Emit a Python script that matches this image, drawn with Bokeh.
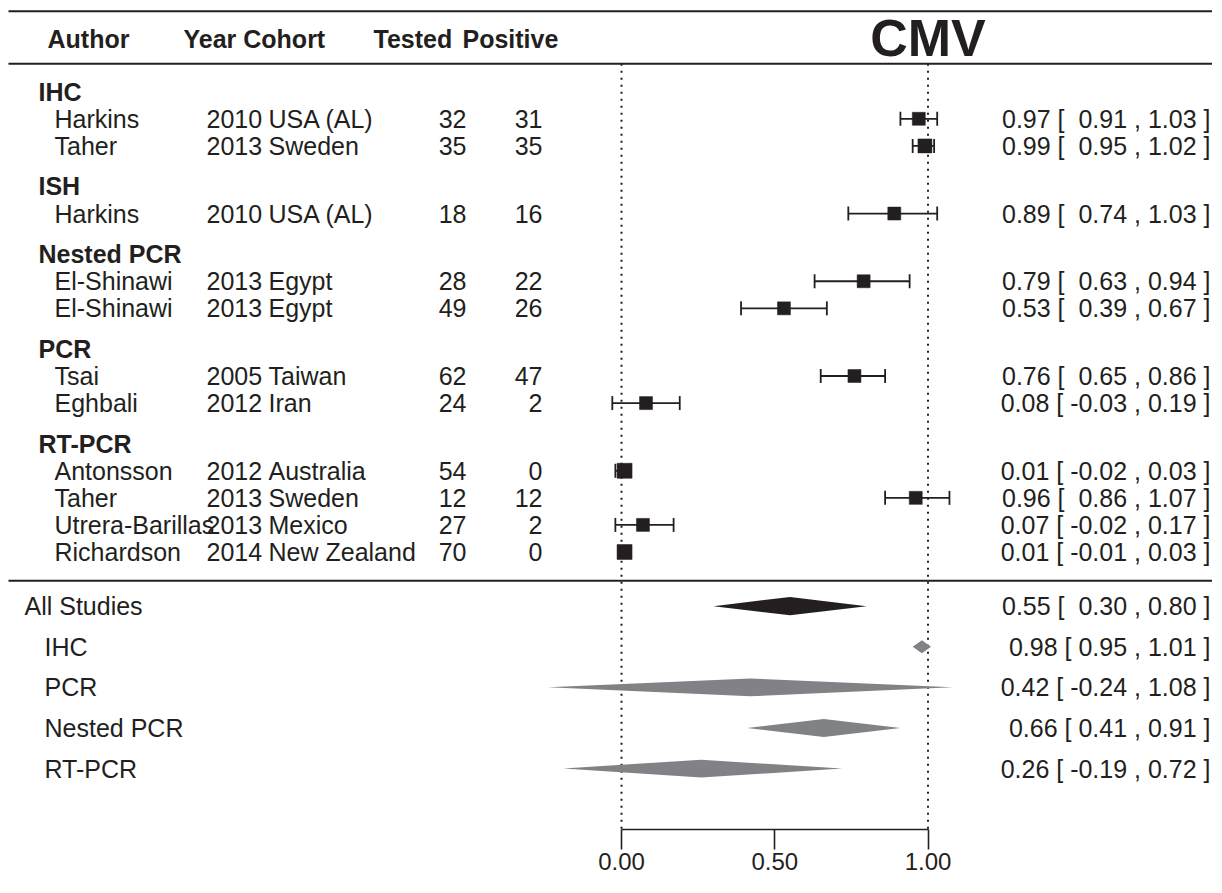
from bokeh.plotting import figure
from bokeh.models import (ColumnDataSource, Range1d, LinearAxis, FixedTicker,
                          NumeralTickFormatter, Whisker, TeeHead)
from bokeh.core.properties import value
from bokeh.embed import file_html
from bokeh.resources import INLINE

# ---------------- data ----------------
title = "CMV"
header_author = "Author"
header_year_cohort = "Year Cohort"
header_tested = "Tested"
header_positive = "Positive"

groups = ["IHC", "ISH", "Nested PCR", "PCR", "RT-PCR"]
study_group = ["IHC", "IHC", "ISH", "Nested PCR", "Nested PCR", "PCR", "PCR",
               "RT-PCR", "RT-PCR", "RT-PCR", "RT-PCR"]
authors = ["Harkins", "Taher", "Harkins", "El-Shinawi", "El-Shinawi", "Tsai",
           "Eghbali", "Antonsson", "Taher", "Utrera-Barillas", "Richardson"]
years = ["2010", "2013", "2010", "2013", "2013", "2005", "2012", "2012",
         "2013", "2013", "2014"]
cohorts = ["USA (AL)", "Sweden", "USA (AL)", "Egypt", "Egypt", "Taiwan", "Iran",
           "Australia", "Sweden", "Mexico", "New Zealand"]
tested = [32, 35, 18, 28, 49, 62, 24, 54, 12, 27, 70]
positive = [31, 35, 16, 22, 26, 47, 2, 0, 12, 2, 0]
est = [0.97, 0.99, 0.89, 0.79, 0.53, 0.76, 0.08, 0.01, 0.96, 0.07, 0.01]
ci_lo = [0.91, 0.95, 0.74, 0.63, 0.39, 0.65, -0.03, -0.02, 0.86, -0.02, -0.01]
ci_hi = [1.03, 1.02, 1.03, 0.94, 0.67, 0.86, 0.19, 0.03, 1.07, 0.17, 0.03]

summary_labels = ["All Studies", "IHC", "PCR", "Nested PCR", "RT-PCR"]
summary_est = [0.55, 0.98, 0.42, 0.66, 0.26]
summary_lo = [0.30, 0.95, -0.24, 0.41, -0.19]
summary_hi = [0.80, 1.01, 1.08, 0.91, 0.72]

x_ticks = [0.0, 0.5, 1.0]

# ---------------- style / layout ----------------
INK = "#231f20"
GREY = "#808285"
FONT = value("Liberation Sans")
FS = "25px"
NB = "\u00a0"
W, H = 1212, 877
ZERO_PX = 621.0          # pixel of x = 0
PX_PER_UNIT = 306.5      # pixels per unit of proportion
ROW_PX = 27.3            # reference pixels per row
AXIS_PX = 829            # frame bottom (axis line)


def xcol(px):
    """pixel column -> data x"""
    return (px - ZERO_PX) / PX_PER_UNIT


# row layout (rows grow downward)
header_rows, study_rows = [], []
r = 0.0
for g in groups:
    header_rows.append(r)
    for sg in study_group:
        if sg == g:
            r += 1
            study_rows.append(r)
    r += 1.5
last = study_rows[-1]
sep_row = last + 1.06
summary_rows = [last + 2 + 1.5 * i for i in range(len(summary_labels))]
axis_row = summary_rows[-1] + 2.25
top_row = -92 / ROW_PX
col_header_row = -1.95
line1_row = -2.97
line2_row = -1.03

x_end = (W - ZERO_PX) / PX_PER_UNIT
p = figure(width=W, height=H, output_backend="svg", toolbar_location=None,
           x_axis_type=None, y_axis_type=None,
           x_range=Range1d(-ZERO_PX / PX_PER_UNIT, x_end),
           y_range=Range1d(axis_row, top_row),
           min_border=0, min_border_left=0, min_border_right=0,
           min_border_top=0, min_border_bottom=H - AXIS_PX)
p.outline_line_color = None
p.background_fill_color = "white"
p.border_fill_color = "white"

# horizontal rules
rules = [line1_row, line2_row, sep_row]
p.segment(x0=[xcol(8)] * 3, x1=[x_end] * 3, y0=rules, y1=rules,
          line_color=INK, line_width=2)

# dotted reference lines at 0 and 1
p.segment(x0=[0, 1], x1=[0, 1], y0=[line2_row, line2_row],
          y1=[axis_row, axis_row], line_color=INK, line_width=2,
          line_dash="2 5")


def txt(x, y, t, align="left", bold=False, size=FS, color=INK):
    p.text(x=x, y=y, text=t, text_font=FONT, text_font_size=size,
           text_color=color, text_align=align, text_baseline="middle",
           text_font_style="bold" if bold else "normal")


# ---- header texts ----
txt([xcol(47)], [col_header_row], [header_author], bold=True)
txt([xcol(183)], [col_header_row], [header_year_cohort], bold=True)
txt([xcol(373)], [col_header_row], [header_tested], bold=True)
txt([xcol(462)], [col_header_row], [header_positive], bold=True)
txt([1.0], [col_header_row - 0.05], [title], align="center", bold=True,
    size="52px")

# group labels
txt([xcol(38)] * len(groups), header_rows, groups, bold=True)

# study columns
n = len(authors)
txt([xcol(54)] * n, study_rows, authors)
txt([xcol(206)] * n, study_rows, years)
txt([xcol(268)] * n, study_rows, cohorts)
txt([xcol(466)] * n, study_rows, [str(v) for v in tested], align="right")
txt([xcol(542)] * n, study_rows, [str(v) for v in positive], align="right")


def fmt_pad(v):
    s = f"{v:.2f}"
    return s if v < 0 else NB + s


study_txt = [f"{e:.2f} [ {fmt_pad(lo)} , {hi:.2f} ]"
             for e, lo, hi in zip(est, ci_lo, ci_hi)]
txt([xcol(1210)] * n, study_rows, study_txt, align="right")

# summary labels
txt([xcol(24)] + [xcol(44)] * (len(summary_labels) - 1), summary_rows,
    summary_labels)
sum_txt = []
for i, (e, lo, hi) in enumerate(zip(summary_est, summary_lo, summary_hi)):
    if i == 0:
        sum_txt.append(f"{e:.2f} [ {fmt_pad(lo)} , {hi:.2f} ]")
    else:
        sum_txt.append(f"{e:.2f} [ {lo:.2f} , {hi:.2f} ]")
txt([xcol(1210)] * len(sum_txt), summary_rows, sum_txt, align="right")

# ---- study CIs and points ----
src = ColumnDataSource(dict(row=study_rows, est=est, lo=ci_lo, hi=ci_hi,
                            size=[13, 14, 13, 13, 13, 13, 13, 15, 13, 13, 15]))
p.add_layout(Whisker(source=src, base="row", lower="lo", upper="hi",
                     dimension="width", line_color=INK, line_width=1.8,
                     lower_head=TeeHead(size=14, line_color=INK, line_width=1.8),
                     upper_head=TeeHead(size=14, line_color=INK, line_width=1.8)))
p.scatter(x="est", y="row", size="size", marker="square", source=src,
          fill_color=INK, line_color=INK, line_width=0.5)

# ---- summary diamonds ----
half_h = [0.34, 0.24, 0.33, 0.33, 0.33]
xs = [[lo, e, hi, e] for e, lo, hi in zip(summary_est, summary_lo, summary_hi)]
ys = [[rr, rr - h, rr, rr + h] for rr, h in zip(summary_rows, half_h)]
p.patches(xs=xs, ys=ys, fill_color=[INK] + [GREY] * (len(xs) - 1),
          line_color=None)

# ---- x axis ----
ax = LinearAxis(ticker=FixedTicker(ticks=x_ticks),
                formatter=NumeralTickFormatter(format="0.00"), bounds=(0, 1))
ax.major_tick_out = 20
ax.major_tick_in = 0
ax.minor_tick_out = 0
ax.minor_tick_in = 0
ax.axis_line_width = 1.6
ax.axis_line_color = INK
ax.major_tick_line_width = 1.6
ax.major_tick_line_color = INK
ax.major_label_text_font = "Liberation Sans"
ax.major_label_text_font_size = "24px"
ax.major_label_text_color = INK
ax.major_label_standoff = 3
p.add_layout(ax, "below")

open("out.html", "w").write(file_html(p, INLINE))
